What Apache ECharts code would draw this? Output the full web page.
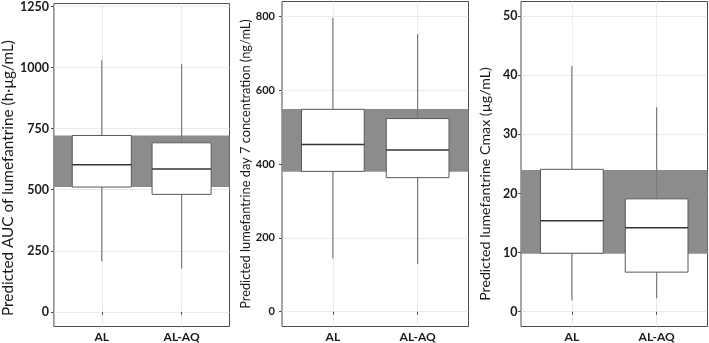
<!DOCTYPE html>
<html>
<head>
<meta charset="utf-8">
<script src="https://cdn.jsdelivr.net/npm/echarts@6/dist/echarts.min.js"></script>
<style>
  html, body { margin: 0; padding: 0; background: #fff; }
  #main { width: 709px; height: 343px; }
</style>
</head>
<body>
<div id="main"></div>
<script>
// groups on the x axis
const categories = ["AL", "AL-AQ"];

// box stats per group: [lower whisker, Q1, median, Q3, upper whisker]
const aucBoxes = [[207, 511, 602, 722, 1030], [176, 481, 585, 692, 1014]];
const aucBand = [511, 722];
const aucTicks = [0, 250, 500, 750, 1000, 1250];

const day7Boxes = [[145, 380, 453, 548, 796], [129, 363, 438, 523, 752]];
const day7Band = [379, 549];
const day7Ticks = [0, 200, 400, 600, 800];

const cmaxBoxes = [[1.9, 9.9, 15.4, 24.1, 41.6], [2.3, 6.7, 14.2, 19.1, 34.6]];
const cmaxBand = [9.8, 24.0];
const cmaxTicks = [0, 10, 20, 30, 40, 50];

const FONT = "Lato";

const panels = [
  { title: "Predicted AUC of lumefantrine (h·µg/mL)", boxes: aucBoxes, band: aucBand, ticks: aucTicks,
    min: -60, max: 1262, left: 43, right: 479.5, titleSize: 15.3, gap: 31.5, shift: 26,
    tickSize: 12.5, tickMargin: 5 },
  { title: "Predicted lumefantrine day 7 concentration (ng/mL)", boxes: day7Boxes, band: day7Band, ticks: day7Ticks,
    min: -40, max: 840, left: 282, right: 240.5, titleSize: 12.8, gap: 29, shift: 0,
    tickSize: 11, tickMargin: 7 },
  { title: "Predicted lumefantrine Cmax (µg/mL)", boxes: cmaxBoxes, band: cmaxBand, ticks: cmaxTicks,
    min: -2.5, max: 52.5, left: 521, right: 1.5, titleSize: 14.2, gap: 28.5, shift: 40,
    tickSize: 12.5, tickMargin: 3.5 }
];

const chart = echarts.init(document.getElementById("main"), null, { renderer: "canvas" });

const grids = [], xAxes = [], yAxes = [], series = [];

panels.forEach((p, i) => {
  grids.push({
    left: p.left, right: p.right, top: 1.5, bottom: 15.7,
    show: true, borderColor: "#4d4d4d", borderWidth: 1, backgroundColor: "transparent"
  });
  xAxes.push({
    type: "value", gridIndex: i, min: 0.4, max: 2.6,
    axisLine: { show: false },
    axisTick: { show: true, length: 3, lineStyle: { color: "#4d4d4d" }, customValues: [1, 2] },
    axisLabel: {
      customValues: [1, 2], margin: 4.5,
      formatter: v => categories[Math.round(v) - 1] || "",
      color: "#1a1a1a", fontFamily: FONT, fontWeight: "bold", fontSize: 12
    },
    splitLine: { show: true, lineStyle: { color: "#ebebeb", width: 1 } }
  });
  yAxes.push({
    type: "value", gridIndex: i, min: p.min, max: p.max,
    name: p.title, nameLocation: "middle", nameGap: p.gap,
    nameTextStyle: {
      fontFamily: FONT, fontSize: p.titleSize, color: "#1a1a1a",
      padding: [0, p.shift, 0, 0]
    },
    axisLine: { show: false },
    axisTick: { show: true, length: 3, lineStyle: { color: "#4d4d4d" }, customValues: p.ticks },
    axisLabel: {
      customValues: p.ticks, margin: p.tickMargin, formatter: v => String(v),
      color: "#1a1a1a", fontFamily: FONT, fontWeight: "bold", fontSize: p.tickSize
    },
    splitLine: { show: true, lineStyle: { color: "#ebebeb", width: 1 } }
  });

  // reference band behind the boxes
  series.push({
    type: "custom", xAxisIndex: i, yAxisIndex: i, z: 1, silent: true,
    data: [[p.band[0], p.band[1]]],
    renderItem: (params, api) => {
      const a = api.coord([0.4, api.value(1)]);
      const b = api.coord([2.6, api.value(0)]);
      return {
        type: "rect",
        shape: { x: a[0], y: a[1], width: b[0] - a[0], height: b[1] - a[1] },
        style: { fill: "#8c8c8c" }
      };
    }
  });

  // boxes
  series.push({
    type: "custom", xAxisIndex: i, yAxisIndex: i, z: 2, silent: true,
    encode: { x: 0, y: [1, 2, 3, 4, 5] },
    data: p.boxes.map((b, k) => [k + 1].concat(b)),
    renderItem: (params, api) => {
      const x = api.value(0);
      const lo = api.coord([x, api.value(1)]);
      const q1 = api.coord([x, api.value(2)]);
      const md = api.coord([x, api.value(3)]);
      const q3 = api.coord([x, api.value(4)]);
      const hi = api.coord([x, api.value(5)]);
      const hw = api.size([0.74, 0])[0] / 2;
      const whisk = { stroke: "#7a7a7a", lineWidth: 1.2 };
      return {
        type: "group",
        children: [
          { type: "line", shape: { x1: hi[0], y1: hi[1], x2: q3[0], y2: q3[1] }, style: whisk },
          { type: "line", shape: { x1: q1[0], y1: q1[1], x2: lo[0], y2: lo[1] }, style: whisk },
          { type: "rect", shape: { x: q3[0] - hw, y: q3[1], width: hw * 2, height: q1[1] - q3[1] },
            style: { fill: "#fff", stroke: "#595959", lineWidth: 1 } },
          { type: "line", shape: { x1: md[0] - hw, y1: md[1], x2: md[0] + hw, y2: md[1] },
            style: { stroke: "#333", lineWidth: 1.5 } }
        ]
      };
    }
  });
});

chart.setOption({
  animation: false,
  grid: grids,
  xAxis: xAxes,
  yAxis: yAxes,
  series: series
});
</script>
</body>
</html>
